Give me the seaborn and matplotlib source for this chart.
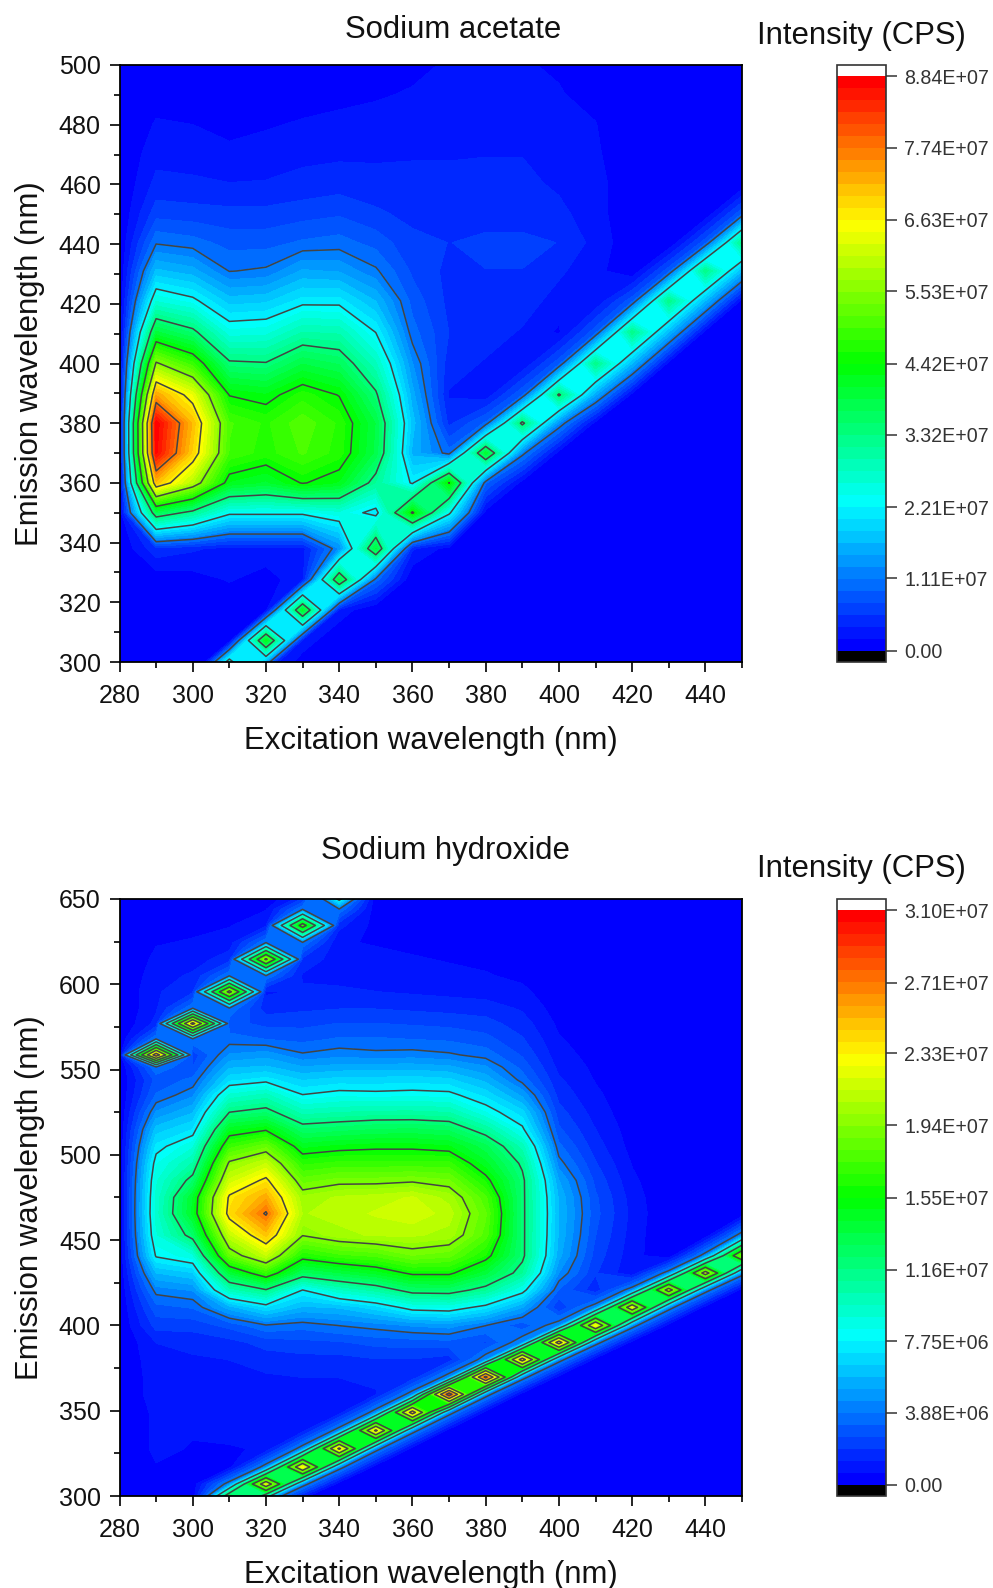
import numpy as np
import seaborn as sns
import matplotlib.pyplot as plt
from matplotlib.cm import ScalarMappable
from matplotlib.colors import ListedColormap, BoundaryNorm

sns.set_style("ticks")
plt.rcParams['font.family'] = ['Liberation Sans', 'DejaVu Sans']

# Excitation axis, shared by both maps (nm)
excitation = [280, 290, 300, 310, 320, 330, 340, 350, 360, 370, 380, 390, 400, 410, 420, 430, 440, 450]

# Sodium acetate: emission rows (nm), one list per excitation, intensity in 1E7 CPS
acetate_em = [297, 307.2, 317.4, 327.6, 338, 350, 360, 370, 380, 389.5, 400, 410.5, 421, 431, 440.5, 450.5, 460.5, 470.5, 480.5, 490.5, 501]
ac_280 = [0] * 21
ac_290 = [0, 0, 0, .05, .5, 3.7, 7.1, 8.7, 8.8, 7.35, 5.6, 3.9, 2.55, 1.7, 1.08, .65, .42, .3, .2, .1, 0]
ac_300 = [0, 0, 0, .1, .4, 3.15, 5.9, 6.95, 7.15, 6.4, 4.85, 3.45, 2.3, 1.55, 1.0, .62, .4, .28, .18, .08, 0]
ac_310 = [3.6, .05, .02, .2, .3, 2.3, 4.2, 4.95, 5.0, 4.4, 3.4, 2.45, 1.75, 1.1, .85, .6, .37, .22, .13, .07, 0]
ac_320 = [.4, 4.2, .1, .1, .3, 2.3, 4.0, 4.7, 4.75, 4.25, 3.35, 2.5, 1.8, 1.15, .85, .6, .38, .26, .16, .08, .02]
ac_330 = [0, .3, 4.1, .3, .3, 2.3, 4.45, 5.0, 5.1, 4.7, 3.85, 2.95, 2.1, 1.5, .95, .65, .42, .32, .2, .1, .03]
ac_340 = [0, 0, .3, 3.9, 1.3, 2.5, 4.2, 4.7, 4.75, 4.4, 3.65, 2.9, 2.1, 1.45, 1.0, .7, .46, .33, .22, .14, .05]
ac_350 = [0, 0, 0, 1.0, 3.9, 2.05, 3.1, 3.8, 3.85, 3.4, 2.8, 2.2, 1.65, 1.15, .85, .58, .44, .33, .25, .16, .08]
ac_360 = [0, 0, 0, 0, .4, 4.5, 2.15, 1.6, 1.75, 1.55, 1.3, 1.0, .85, .7, .6, .5, .42, .35, .27, .2, .13]
ac_370 = [0, 0, 0, 0, .1, 2.3, 4.45, 1.0, .5, .35, .45, .55, .5, .5, .55, .5, .42, .35, .28, .22, .2]
ac_380 = [0, 0, 0, 0, 0, .1, .95, 4.0, .95, .25, .35, .45, .55, .55, .58, .5, .42, .36, .28, .24, .2]
ac_390 = [0, 0, 0, 0, 0, 0, .1, 1.2, 3.45, .9, .2, .35, .45, .55, .58, .5, .42, .36, .3, .24, .2]
ac_400 = [0, 0, 0, 0, 0, 0, 0, .1, 1.3, 3.4, .85, .15, .3, .4, .55, .42, .33, .28, .24, .2, .15]
ac_410 = [0, 0, 0, 0, 0, 0, 0, 0, .1, 1.5, 3.25, .85, .2, .25, .3, .25, .25, .22, .19, .1, .03]
ac_420 = [0, 0, 0, 0, 0, 0, 0, 0, 0, .1, 1.65, 3.25, .85, .02, .05, .05, .05, 0, 0, 0, 0]
ac_430 = [0, 0, 0, 0, 0, 0, 0, 0, 0, 0, .1, 1.65, 3.25, .85, 0, 0, 0, 0, 0, 0, 0]
ac_440 = [0, 0, 0, 0, 0, 0, 0, 0, 0, 0, 0, .1, 1.65, 3.25, .85, 0, 0, 0, 0, 0, 0]
ac_450 = [0, 0, 0, 0, 0, 0, 0, 0, 0, 0, 0, 0, .1, 1.65, 3.25, .85, 0, 0, 0, 0, 0]

# Sodium hydroxide: emission rows (nm), one list per excitation, intensity in 1E6 CPS
hydroxide_em = [297, 307, 317, 327.8, 338.4, 349, 359.6, 369.7, 380, 390, 400, 410.6, 420.8, 430.7, 440.9, 453, 465.6,
                475, 485, 495, 505, 515, 525, 535, 544, 551.5, 558.6, 568, 577, 586, 595.6, 605, 614.7, 624.5, 634.5, 644, 653.5]
no_280 = [0] * 37
no_290 = [0, .3, .6, .8, .8, .8, 1, 1, 1.1, 1.3, 2.2, 3, 4.2, 5.8, 7.9, 8.9, 9.3, 9.2, 8.9, 8.3, 7.3, 6.1, 4.6, 3.3, 2.8, 3.8, 25.5, 3.8, 1.5, 1.2, 1.2, 1, .8, .6, .4, .2, .1]
no_300 = [0, .2, .4, .6, .7, .8, .9, 1, 1.2, 1.5, 2.2, 3.3, 4.6, 6.4, 8.8, 12.3, 14.4, 14.2, 12.2, 10.4, 8.9, 7.1, 5.75, 4.4, 3.4, 2.6, 2.2, 3.8, 24.5, 3.8, 1.8, 1.4, 1, .7, .5, .3, .1]
no_310 = [18, 4.5, .4, .6, .8, .9, 1, 1.1, 1.3, 1.7, 2.8, 5.5, 9.9, 13.7, 18.4, 21.2, 24, 23.6, 21.5, 19.7, 17.1, 14.5, 11.6, 9.2, 6.9, 5.7, 4.6, 3.5, 2.8, 3.8, 20.5, 3.8, 1.6, 1, .6, .3, .1]
no_320 = [4.5, 22, 4.5, .7, .8, .9, 1, 1.2, 1.6, 2.2, 3.8, 7.1, 11.5, 16.8, 21.3, 24.8, 27.3, 25.6, 23.7, 21.3, 18.5, 15.3, 12.2, 9.9, 7.4, 5.9, 4.9, 3.2, 2.4, 1.6, 1.2, 3.8, 20, 3.8, 1.2, .6, .2]
no_330 = [0, 4.5, 23, 4.5, 1, 1, 1.1, 1.3, 1.7, 2.4, 3.5, 5.7, 7.75, 12.7, 16.2, 19.5, 20.6, 20.2, 18.4, 16.6, 14.6, 12.3, 10, 7.8, 6.4, 5.2, 4, 3, 2.4, 1.8, 1.4, 1.2, 1.8, 3.8, 17, 3.8, 1]
no_340 = [0, .2, 4.5, 24, 4.5, 1, 1.1, 1.3, 1.7, 2.5, 3.9, 5.9, 9.6, 13.5, 17.2, 20.4, 21, 20.8, 19, 17, 15, 12.6, 10.3, 8.2, 6.7, 5.4, 4.3, 3.3, 2.6, 1.9, 1.4, 1.1, .9, .7, 1.5, 3.8, 11]
no_350 = [0, 0, .2, 4.5, 24, 4.5, 1.2, 1.5, 1.9, 2.8, 4.2, 6.8, 10.6, 14.4, 17.6, 20.8, 21.4, 21, 19, 17, 15.2, 12.9, 10.5, 8.1, 6.7, 5.5, 4.1, 3.3, 2.6, 1.9, 1.3, 1, .8, .6, .4, .2, .1]
no_360 = [0, 0, 0, .3, 4.5, 25, 4.5, 1.5, 1.9, 2.9, 4.6, 8.3, 12.3, 15.8, 18.7, 20.8, 21.8, 21.4, 19.2, 17, 15.2, 13, 10.5, 8.2, 6.8, 5.5, 4.2, 3.2, 2.5, 1.8, 1.2, .9, .7, .5, .3, .2, .1]
no_370 = [0, 0, 0, 0, .3, 4.5, 29, 4.5, 1.6, 3, 4.8, 8.5, 12.4, 15.8, 18.3, 20.4, 21, 20.4, 18.8, 17, 14.9, 12.7, 10.3, 8.1, 6.6, 5.3, 4, 3.1, 2.4, 1.7, 1.1, .8, .6, .4, .2, .1, 0]
no_380 = [0, 0, 0, 0, 0, .3, 4.5, 28, 4.5, 2.5, 3.9, 7.3, 11, 13.7, 16.1, 17.8, 18.2, 17.6, 16, 14.4, 13.1, 10.8, 8.4, 6.9, 5.6, 4.6, 3.6, 2.8, 2.2, 1.6, 1, .7, .5, .3, .2, .1, 0]
no_390 = [0, 0, 0, 0, 0, 0, .3, 4.5, 25, 4.5, 2.8, 5.2, 8.3, 10.9, 12, 12, 12, 12, 12, 11.3, 10, 8, 6.7, 5, 3.6, 3, 2.5, 2, 1.6, 1.2, .8, .5, .3, .2, .1, 0, 0]
no_400 = [0, 0, 0, 0, 0, 0, 0, .3, 4.5, 25, 4.5, 2, 3.2, 4.5, 5.4, 5.7, 5.8, 5.7, 5.2, 4.2, 3.4, 2.7, 2.2, 1.7, 1.4, 1.1, .9, .7, .5, .3, .2, .1, 0, 0, 0, 0, 0]
no_410 = [0] * 8 + [.3, 4.5, 23, 4.5, 1.5, 2, 2.3, 2.6, 2.8, 2.7, 2.4, 2, 1.6, 1.3, 1, .8, .6, .5, .4, .3, .2, .1] + [0] * 7
no_420 = [0] * 9 + [.3, 4.5, 22, 4.5, .8, .9, 1, 1.1, 1, .8, .6, .4, .3, .2, .1] + [0] * 13
no_430 = [0] * 10 + [.3, 4.5, 21, 4.5, .1] + [0] * 22
no_440 = [0] * 11 + [.3, 4.5, 21, 4.5, .1] + [0] * 21
no_450 = [0] * 12 + [.3, 4.5, 19, 4.5, .1] + [0] * 20

# Colour bar ticks
acetate_ticks = [0, 1.11e7, 2.21e7, 3.32e7, 4.42e7, 5.53e7, 6.63e7, 7.74e7, 8.84e7]
acetate_labels = ["0.00", "1.11E+07", "2.21E+07", "3.32E+07", "4.42E+07", "5.53E+07", "6.63E+07", "7.74E+07", "8.84E+07"]
hydroxide_ticks = [0, 3.88e6, 7.75e6, 1.16e7, 1.55e7, 1.94e7, 2.33e7, 2.71e7, 3.10e7]
hydroxide_labels = ["0.00", "3.88E+06", "7.75E+06", "1.16E+07", "1.55E+07", "1.94E+07", "2.33E+07", "2.71E+07", "3.10E+07"]

acetate = np.column_stack([ac_280, ac_290, ac_300, ac_310, ac_320, ac_330, ac_340, ac_350, ac_360,
                           ac_370, ac_380, ac_390, ac_400, ac_410, ac_420, ac_430, ac_440, ac_450]) * 1e7
hydroxide = np.column_stack([no_280, no_290, no_300, no_310, no_320, no_330, no_340, no_350, no_360,
                             no_370, no_380, no_390, no_400, no_410, no_420, no_430, no_440, no_450]) * 1e6

W, H = 993, 1588
N_BANDS = 48
band_colors = sns.blend_palette(["#0000ff", "#00ffff", "#00ff00", "#ffff00", "#ff0000"], n_colors=N_BANDS)
cmap = ListedColormap(band_colors)
cmap.set_over("white")
cmap.set_under("black")


def px_axes(fig, left, top, right, bottom):
    return fig.add_axes([left / W, 1 - bottom / H, (right - left) / W, (bottom - top) / H])


def draw_panel(fig, z, em, ticks, labels, top, bottom, ylim, ymajor, yminor, title, title_x, title_y, cb_y):
    ax = px_axes(fig, 119.5, top, 742, bottom)
    levels = np.linspace(0, ticks[-1], N_BANDS + 1)
    norm = BoundaryNorm(levels, N_BANDS)
    ax.contourf(excitation, em, z, levels=levels, cmap=cmap, norm=norm)
    ax.contour(excitation, em, z, levels=ticks[1:-1], colors="#444444", linewidths=1.1)
    ax.set_xlim(280, 450)
    ax.set_ylim(*ylim)
    ax.set_xticks(np.arange(280, 451, 20))
    ax.set_xticks(np.arange(280, 451, 10), minor=True)
    ax.set_yticks(ymajor)
    ax.set_yticks(yminor, minor=True)
    ax.tick_params(which="major", length=7.5, width=1.2, labelsize=18, pad=6, color="black", labelcolor="#111111")
    ax.tick_params(axis="x", which="major", pad=8)
    ax.tick_params(which="minor", length=4.5, width=1.2, color="black")
    for side in ax.spines.values():
        side.set_linewidth(1.3)
        side.set_color("black")
    ax.set_xlabel("Excitation wavelength (nm)", fontsize=22.4, va="center", color="#111111")
    ax.set_ylabel("Emission wavelength (nm)", fontsize=22.4, va="center", color="#111111")
    ax.xaxis.set_label_coords(0.5, -79 / (bottom - top))
    ax.yaxis.set_label_coords((30.5 - 119.5) / (742 - 119.5), 0.5)
    fig.text(title_x / W, 1 - title_y / H, title, fontsize=22.4, ha="center", va="center", color="#111111")

    cax = px_axes(fig, 837, top, 886, bottom)
    cb = fig.colorbar(ScalarMappable(norm=norm, cmap=cmap), cax=cax, extend="both", extendrect=True,
                      extendfrac=0.02, spacing="proportional")
    cb.set_ticks(ticks, labels=labels)
    cb.minorticks_off()
    cb.ax.tick_params(length=8, width=1.1, labelsize=14.1, pad=5, color="#333333", labelcolor="#333333")
    cb.outline.set_edgecolor("#333333")
    cb.outline.set_linewidth(1.2)
    fig.text(861 / W, 1 - cb_y / H, "Intensity (CPS)", fontsize=22.4, ha="center", va="center", color="#111111")


fig = plt.figure(figsize=(W / 100, H / 100), dpi=100)
draw_panel(fig, acetate, acetate_em, acetate_ticks, acetate_labels, 65, 662, (300, 500),
           np.arange(300, 501, 20), np.arange(300, 501, 10), "Sodium acetate", 453, 30, 36)
draw_panel(fig, hydroxide, hydroxide_em, hydroxide_ticks, hydroxide_labels, 899, 1496, (300, 650),
           np.arange(300, 651, 50), np.arange(300, 651, 25), "Sodium hydroxide", 445, 851, 869)
fig.savefig("out.png", dpi=100)
